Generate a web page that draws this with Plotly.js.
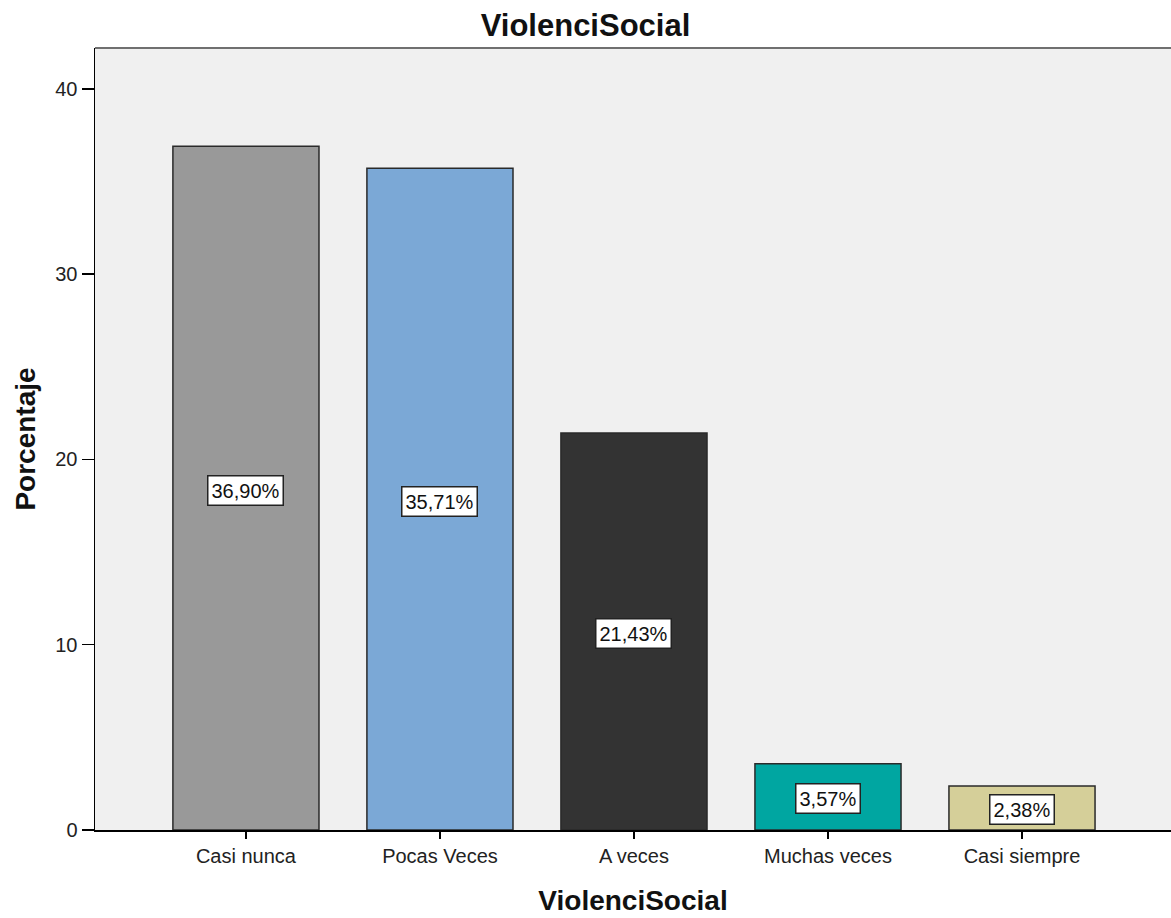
<!DOCTYPE html>
<html><head><meta charset="utf-8">
<script src="https://cdn.plot.ly/plotly-3.0.1.min.js"></script>
<style>html,body{margin:0;padding:0;background:#fff}#chart{width:1171px;height:918px}</style>
</head><body><div id="chart"></div>
<script>
const categories = ["Casi nunca", "Pocas Veces", "A veces", "Muchas veces", "Casi siempre"];
const percentages = [36.90, 35.71, 21.43, 3.57, 2.38];
const labels = ["36,90%", "35,71%", "21,43%", "3,57%", "2,38%"];
const barColors = ["#999999", "#7BA8D6", "#333333", "#00A6A1", "#D5CF99"];

const FONT = "Liberation Sans, Arial, sans-serif";

const trace = {
  type: "bar",
  x: categories,
  y: percentages,
  width: 0.753,
  marker: {color: barColors, line: {color: "#2a2a2a", width: 1.5}},
  hoverinfo: "skip"
};

const annotations = categories.map((c, i) => ({
  x: c, y: percentages[i] / 2, xref: "x", yref: "y",
  text: labels[i], showarrow: false, yshift: -2,
  font: {family: FONT, size: 20, color: "#111"},
  bgcolor: "#ffffff", bordercolor: "#222222", borderwidth: 1.5, borderpad: 3
}));

const layout = {
  width: 1171, height: 918,
  margin: {l: 95, r: 0, t: 48, b: 88},
  paper_bgcolor: "#ffffff",
  plot_bgcolor: "#F0F0F0",
  showlegend: false,
  title: {text: "<b>ViolenciSocial</b>", x: 0.5, xanchor: "center", y: 0.973, yanchor: "middle",
    font: {family: FONT, size: 31, color: "#111"}},
  xaxis: {
    type: "category", range: [-0.778, 4.768],
    showline: true, linecolor: "#000", linewidth: 1.5,
    ticks: "outside", ticklen: 7, tickcolor: "#000", tickwidth: 1.5,
    showgrid: false, zeroline: false,
    tickfont: {family: FONT, size: 20, color: "#222"},
    title: {text: "<b>ViolenciSocial</b>", standoff: 25,
      font: {family: FONT, size: 28, color: "#111"}}
  },
  yaxis: {
    range: [0, 42.2], tickvals: [0, 10, 20, 30, 40],
    showline: true, linecolor: "#000", linewidth: 1.5,
    ticks: "outside", ticklen: 12, tickcolor: "#000", tickwidth: 1.5,
    showgrid: false, zeroline: false,
    tickfont: {family: FONT, size: 20, color: "#222"},
    title: {text: "<b>Porcentaje</b>", standoff: 11,
      font: {family: FONT, size: 28, color: "#111"}}
  },
  shapes: [{type: "line", xref: "paper", yref: "paper", x0: 0, x1: 1, y0: 1, y1: 1,
    line: {color: "#707070", width: 2}}],
  annotations: annotations
};

Plotly.newPlot("chart", [trace], layout, {displayModeBar: false, staticPlot: true});
</script></body></html>
